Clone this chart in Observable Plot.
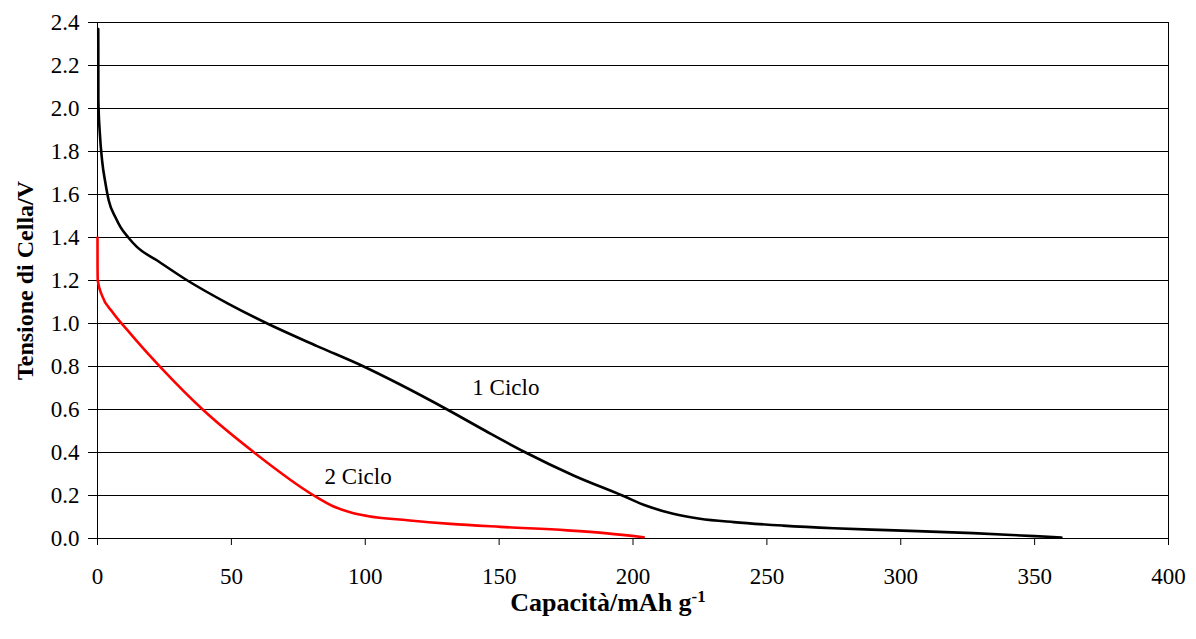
<!DOCTYPE html>
<html>
<head>
<meta charset="utf-8">
<script src="https://cdn.jsdelivr.net/npm/d3@7"></script>
<script src="https://cdn.jsdelivr.net/npm/@observablehq/plot@0.6"></script>
<style>
  html, body { margin: 0; padding: 0; background: #fff; }
  svg, svg text, svg g { font-family: "Liberation Serif", "Times New Roman", serif !important; font-variant: normal !important; }
</style>
</head>
<body>
<div id="chart"></div>
<script>
// Capacity (mAh g^-1) and cell voltage (V) for each cycle
const cycle1Cap = [0.28, 0.3, 0.32, 0.9, 1.7, 3.0, 4.2, 6.7, 8.6, 11.5, 14.8, 22.3, 33.6, 48.4, 63.4, 82, 99.4, 113.2, 130.6, 145, 159.9, 178, 196, 205, 215, 225, 237.6, 256, 275, 292, 327, 350, 360];
const cycle1V   = [2.37, 2.30, 2.04, 1.88, 1.76, 1.65, 1.572, 1.494, 1.448, 1.40, 1.355, 1.293, 1.20, 1.095, 1.00, 0.895, 0.80, 0.715, 0.60, 0.50, 0.40, 0.292, 0.20, 0.152, 0.115, 0.092, 0.076, 0.060, 0.048, 0.040, 0.025, 0.011, 0.005];
const cycle2Cap = [0, 0.02, 0.1, 1.7, 5.5, 11.1, 17, 23.5, 39.7, 58.4, 80.8, 88, 95, 100.7, 115.7, 131.8, 150.5, 175.4, 190.4, 204];
const cycle2V   = [1.40, 1.26, 1.20, 1.13, 1.055, 0.97, 0.885, 0.797, 0.595, 0.401, 0.20, 0.15, 0.12, 0.105, 0.085, 0.068, 0.054, 0.038, 0.024, 0.006];

const xTicks = [0, 50, 100, 150, 200, 250, 300, 350, 400];
const yTicks = [0, 0.2, 0.4, 0.6, 0.8, 1.0, 1.2, 1.4, 1.6, 1.8, 2.0, 2.2, 2.4];

const seriesLabels = ["1 Ciclo", "2 Ciclo"];
const labelCap = [140, 84.8];
const labelV = [0.70, 0.288];

const xTitle = "Capacità/mAh g";
const xTitleSup = "-1";
const yTitle = "Tensione di Cella/V";

const c1 = cycle1Cap.map((c, i) => ({cap: c, v: cycle1V[i]}));
const c2 = cycle2Cap.map((c, i) => ({cap: c, v: cycle2V[i]}));
const labels = seriesLabels.map((t, i) => ({t, cap: labelCap[i], v: labelV[i]}));

const plot = Plot.plot({
  width: 1196,
  height: 639,
  marginLeft: 97,
  marginRight: 28,
  marginTop: 22,
  marginBottom: 101,
  style: "font-family: 'Liberation Serif', 'Times New Roman', serif; font-size: 23px; background: #fff; color: #000;",
  x: {domain: [0, 400]},
  y: {domain: [0, 2.4]},
  marks: [
    Plot.gridY(yTicks.filter(d => d > 0), {stroke: "#000", strokeOpacity: 1, strokeWidth: 1}),
    Plot.ruleX([0, 400], {y1: 0, y2: 2.4, stroke: "#000", strokeWidth: 1}),
    Plot.ruleY([0], {stroke: "#000", strokeWidth: 1.2}),
    Plot.axisX({ticks: xTicks, tickSize: 7, tickPadding: 22, label: null, fontSize: 23, fontVariant: "normal", tickFormat: d3.format("d")}),
    Plot.axisY({ticks: yTicks, tickSize: 9, tickPadding: 9, label: null, fontSize: 23, fontVariant: "normal", tickFormat: d3.format(".1f")}),
    Plot.line(c2, {x: "cap", y: "v", stroke: "#ff0000", strokeWidth: 2.6, curve: "monotone-x"}),
    Plot.line(c1, {x: "cap", y: "v", stroke: "#000", strokeWidth: 2.6, curve: "monotone-x"}),
    Plot.text(labels, {x: "cap", y: "v", text: "t", textAnchor: "start", fontSize: 23, fill: "#000"}),
    Plot.text([xTitle], {frameAnchor: "bottom", textAnchor: "middle", dx: -25, dy: 72, fontWeight: "bold", fontSize: 26, fill: "#000"}),
    Plot.text([yTitle], {frameAnchor: "left", textAnchor: "middle", dx: -72, rotate: -90, fontWeight: "bold", fontSize: 24, fill: "#000"})
  ]
});

d3.select(plot).selectAll("text")
  .filter(function() { return this.textContent === xTitle; })
  .append("tspan")
  .attr("dy", "-0.5em")
  .attr("font-size", "0.65em")
  .text(xTitleSup);

document.getElementById("chart").appendChild(plot);
</script>
</body>
</html>
